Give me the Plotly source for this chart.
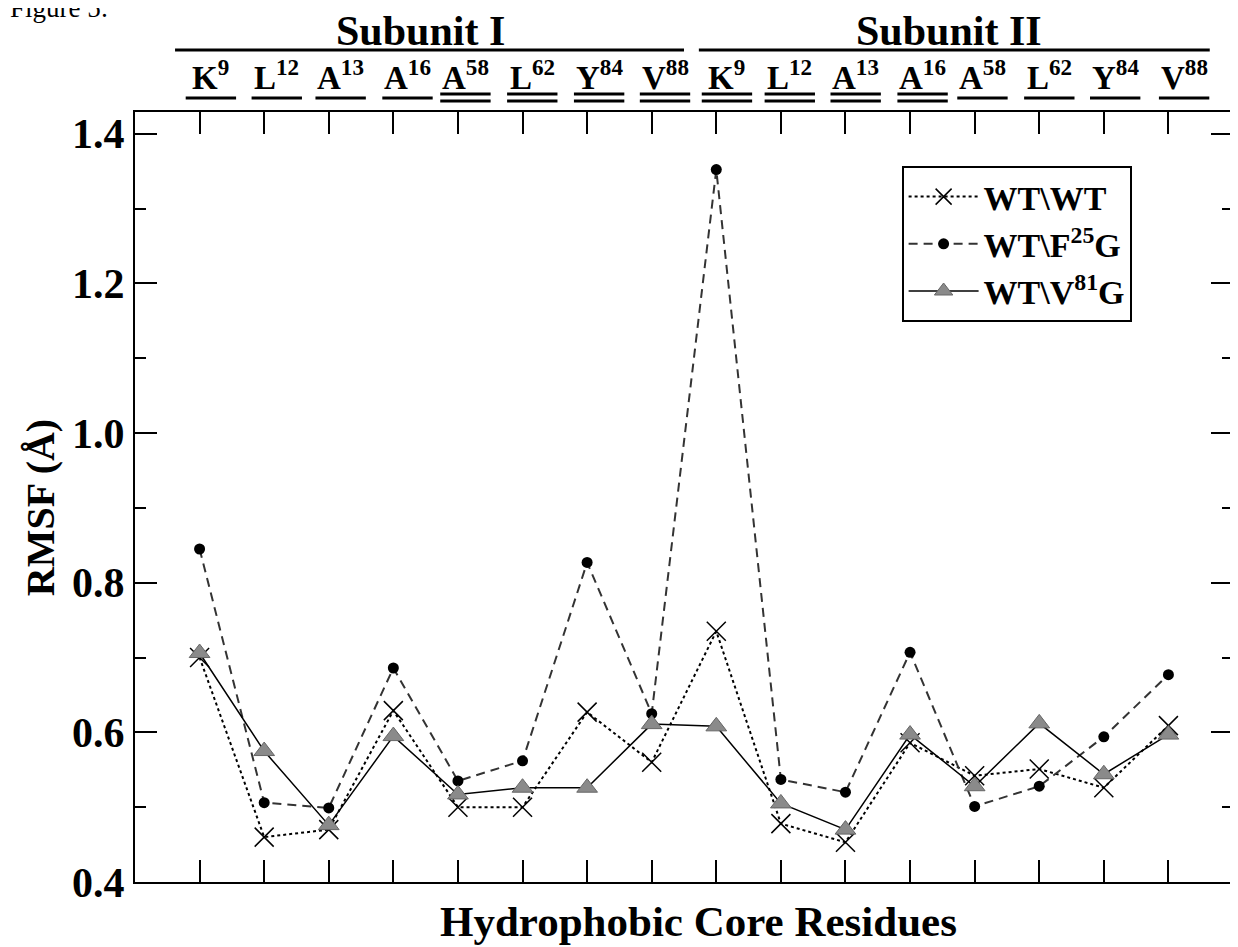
import plotly.graph_objects as go

# ---- data ----
positions = list(range(1, 17))
residues = ["K", "L", "A", "A", "A", "L", "Y", "V",
            "K", "L", "A", "A", "A", "L", "Y", "V"]
residue_nums = ["9", "12", "13", "16", "58", "62", "84", "88",
                "9", "12", "13", "16", "58", "62", "84", "88"]
double_underline = [False, False, False, False, True, True, True, True,
                    True, True, True, True, False, False, False, False]
label_pos = [1.175, 2.195, 3.184, 4.219, 5.116, 6.151, 7.186, 8.206,
             9.165, 10.138, 11.158, 12.194, 13.121, 14.156, 15.176, 16.243]

wt_wt = [0.700, 0.460, 0.470, 0.629, 0.500, 0.500, 0.627, 0.560,
         0.735, 0.478, 0.453, 0.586, 0.542, 0.551, 0.526, 0.609]
wt_f25g = [0.845, 0.506, 0.499, 0.686, 0.535, 0.562, 0.827, 0.625,
           1.352, 0.537, 0.520, 0.707, 0.501, 0.528, 0.594, 0.677]
wt_v81g = [0.706, 0.575, 0.476, 0.595, 0.517, 0.526, 0.526, 0.611,
           0.608, 0.505, 0.470, 0.597, 0.528, 0.612, 0.544, 0.597]

series_names = ["WT\\WT", "WT\\F<sup>25</sup>G", "WT\\V<sup>81</sup>G"]
yticks = [0.4, 0.6, 0.8, 1.0, 1.2, 1.4]

FONT = "Liberation Serif, Times New Roman, serif"

fig = go.Figure()
fig.add_trace(go.Scatter(
    x=positions, y=wt_wt, name=series_names[0], mode="lines+markers",
    line=dict(color="black", width=2, dash="dot"),
    marker=dict(symbol="x-thin-open", size=19, color="black",
                line=dict(color="black", width=1.5))))
fig.add_trace(go.Scatter(
    x=positions, y=wt_f25g, name=series_names[1], mode="lines+markers",
    line=dict(color="#333333", width=2, dash="9px,6px"),
    marker=dict(symbol="circle", size=11, color="black")))
fig.add_trace(go.Scatter(
    x=positions, y=wt_v81g, name=series_names[2], mode="lines+markers",
    line=dict(color="black", width=1.5),
    marker=dict(symbol="triangle-up", size=18, color="#8a8a8a",
                line=dict(color="#666666", width=1))))

# page has an 8px body margin: figure drawn at offset (8, 8)
OFF = 8
W, H = 1238 - OFF, 947 - OFF
# plot area in screen pixels
L, R, T, B = 135, 1235, 112, 882
def py(p):
    return (B - p) / (B - T)
def px(p):
    return (p - L) / (R - L)

shapes = []
ann = []
for res, num, dbl, lp in zip(residues, residue_nums, double_underline, label_pos):
    ann.append(dict(x=lp, y=py(75), xref="x", yref="paper",
                    text=f"<b>{res}<sup>{num}</sup></b>", showarrow=False,
                    font=dict(family=FONT, size=33, color="black"),
                    xanchor="center", yanchor="middle"))
    ys = [py(94), py(101)] if dbl else [py(98)]
    for yy in ys:
        shapes.append(dict(type="line", xref="x", yref="paper",
                           x0=lp - 0.39, x1=lp + 0.39, y0=yy, y1=yy,
                           line=dict(color="black", width=3)))

# subunit headers
for txt, xc, x0, x1 in [("Subunit I", 4.42, 0.62, 8.50), ("Subunit II", 12.6, 8.73, 16.64)]:
    ann.append(dict(x=xc, y=py(31), xref="x", yref="paper", text=f"<b>{txt}</b>",
                    showarrow=False, font=dict(family=FONT, size=42, color="black"),
                    xanchor="center", yanchor="middle"))
    shapes.append(dict(type="line", xref="x", yref="paper", x0=x0, x1=x1,
                       y0=py(50), y1=py(50), line=dict(color="black", width=3)))

ann.append(dict(x=px(700), y=py(921), xref="paper", yref="paper",
                text="<b>Hydrophobic Core Residues</b>", showarrow=False,
                font=dict(family=FONT, size=43, color="black"),
                xanchor="center", yanchor="middle"))
ann.append(dict(x=px(41), y=py(508), xref="paper", yref="paper",
                text="<b>RMSF (Å)</b>", showarrow=False, textangle=-90,
                font=dict(family=FONT, size=40, color="black"),
                xanchor="center", yanchor="middle"))
ann.append(dict(x=px(8), y=py(8), xref="paper", yref="paper",
                text="Figure 5:", showarrow=False,
                font=dict(family=FONT, size=27, color="black"),
                xanchor="left", yanchor="middle"))

fig.update_layout(
    width=W, height=H,
    margin=dict(l=L - OFF, r=W - (R - OFF), t=T - OFF, b=H - (B - OFF)),
    paper_bgcolor="white", plot_bgcolor="white",
    shapes=shapes, annotations=ann,
    showlegend=True,
    legend=dict(x=px(903), y=py(166), xanchor="left", yanchor="top",
                bgcolor="white", bordercolor="black", borderwidth=2,
                font=dict(family=FONT, size=34, color="black", weight="bold"),
                itemwidth=70, tracegroupgap=0),
)
fig.update_xaxes(range=[0, 17], tickvals=positions, showticklabels=False,
                 ticks="inside", ticklen=22, tickwidth=2, tickcolor="black",
                 showline=True, linecolor="black", linewidth=2, mirror="ticks",
                 showgrid=False, zeroline=False)
fig.update_yaxes(range=[0.4, 1.429], tickvals=yticks, tickformat=".1f",
                 ticks="inside", ticklen=22, tickwidth=2, tickcolor="black",
                 tickfont=dict(family=FONT, size=42, color="black", weight="bold"),
                 minor=dict(tickvals=[0.5, 0.7, 0.9, 1.1, 1.3], ticks="inside",
                            ticklen=11, tickwidth=2, tickcolor="black"),
                 showline=True, linecolor="black", linewidth=2, mirror="ticks",
                 showgrid=False, zeroline=False)

fig.write_html("out.html")
